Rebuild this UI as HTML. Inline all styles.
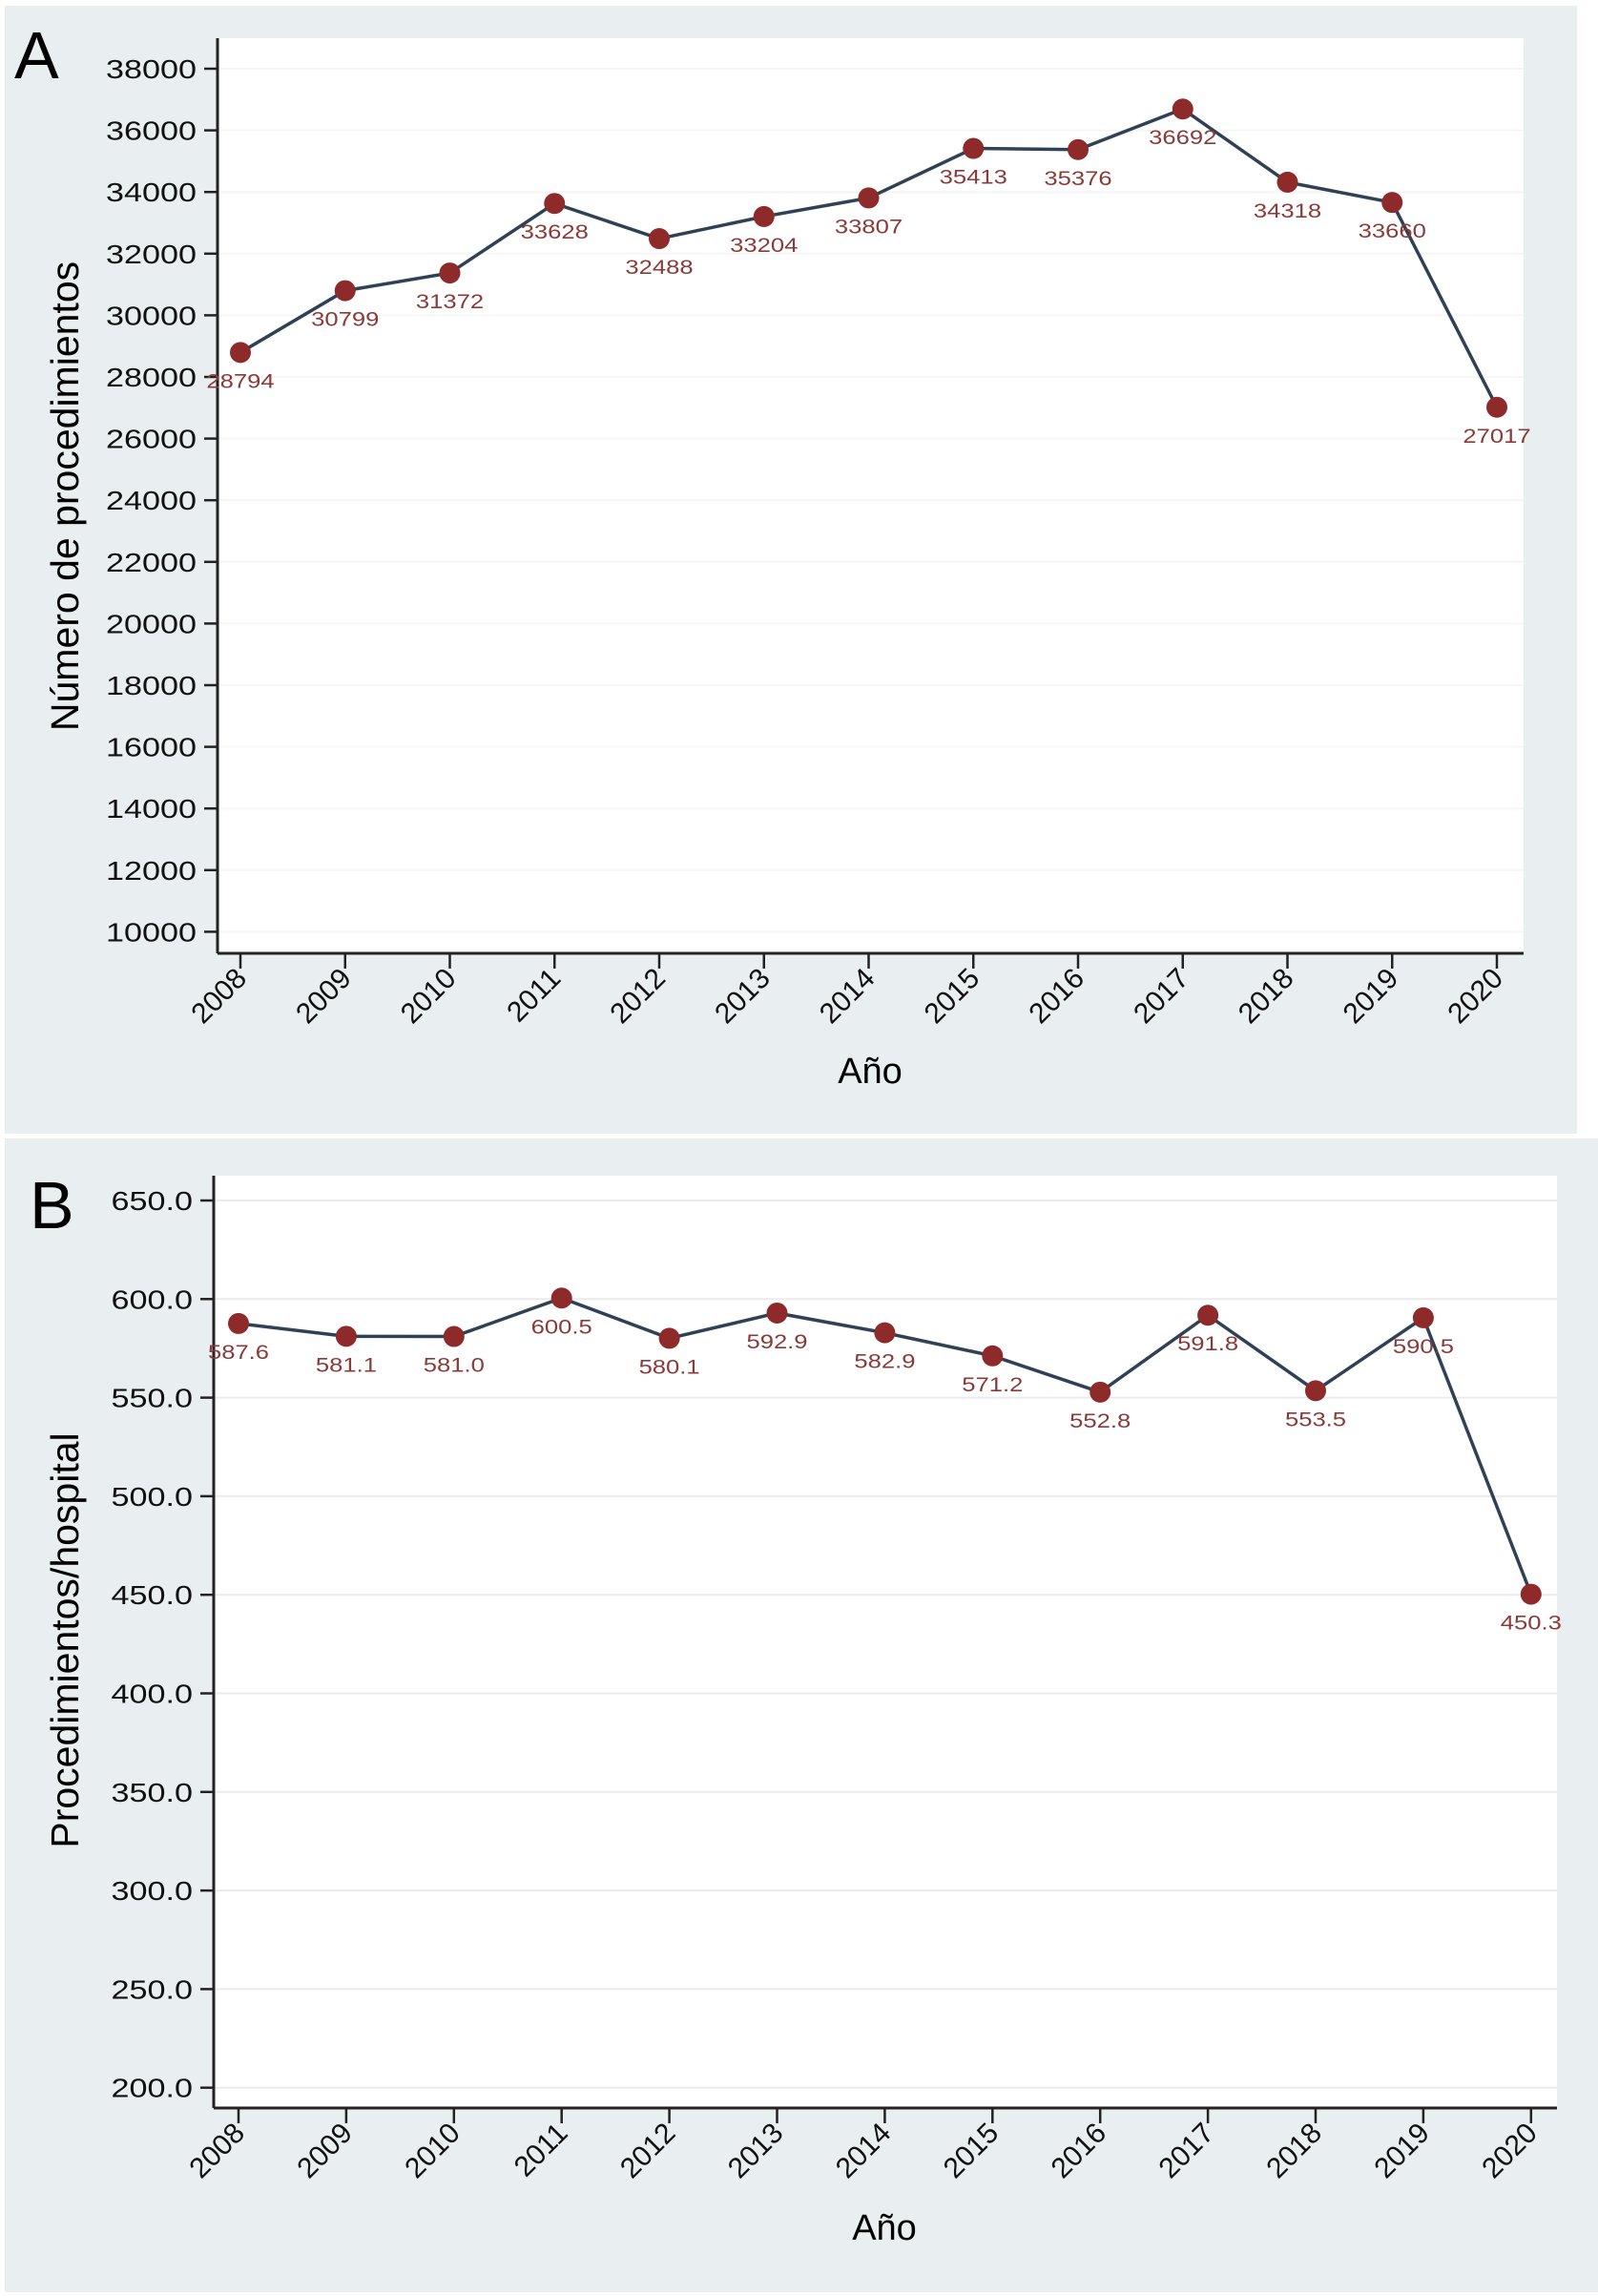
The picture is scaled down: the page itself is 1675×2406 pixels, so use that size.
<!DOCTYPE html>
<html><head><meta charset="utf-8"><style>
html,body{margin:0;padding:0;background:#fff}
svg{display:block}
text{font-family:"Liberation Sans",Arial,sans-serif}
</style></head><body>
<svg id="fig" width="1675" height="2406" xmlns="http://www.w3.org/2000/svg">
<rect x="0" y="0" width="1675" height="2406" fill="#ffffff"/>
<rect x="5" y="6" width="1648" height="1182" fill="#e9eef1"/>
<rect x="228" y="40" width="1369" height="959" fill="#ffffff"/>
<rect x="5" y="1193" width="1670" height="1209" fill="#e9eef1"/>
<rect x="224" y="1232" width="1408" height="977" fill="#ffffff"/>
<text x="15" y="82" font-size="70" fill="#000">A</text>
<text x="31" y="1287" font-size="70" fill="#000">B</text>
<text x="912" y="1135" font-size="38" text-anchor="middle" fill="#000">Año</text>
<text x="927" y="2347" font-size="38" text-anchor="middle" fill="#000">Año</text>
<text transform="translate(82,520) rotate(-90)" font-size="41" text-anchor="middle" fill="#000">Número de procedimientos</text>
<text transform="translate(82,1719) rotate(-90)" font-size="41" text-anchor="middle" fill="#000">Procedimientos/hospital</text>
<g id="chartA"></g>
<g id="chartB"></g>
</svg>
<script>
const years = [2008,2009,2010,2011,2012,2013,2014,2015,2016,2017,2018,2019,2020];
const valuesA = [28794,30799,31372,33628,32488,33204,33807,35413,35376,36692,34318,33660,27017];
const labelsA = ["28794","30799","31372","33628","32488","33204","33807","35413","35376","36692","34318","33660","27017"];
const ticksA = [10000,12000,14000,16000,18000,20000,22000,24000,26000,28000,30000,32000,34000,36000,38000];
const valuesB = [587.6,581.1,581.0,600.5,580.1,592.9,582.9,571.2,552.8,591.8,553.5,590.5,450.3];
const labelsB = ["587.6","581.1","581.0","600.5","580.1","592.9","582.9","571.2","552.8","591.8","553.5","590.5","450.3"];
const ticksB = [200,250,300,350,400,450,500,550,600,650];
const tickLabelsB = ["200.0","250.0","300.0","350.0","400.0","450.0","500.0","550.0","600.0","650.0"];

const NS = "http://www.w3.org/2000/svg";
function mk(tag, attrs, parent){
  const e = document.createElementNS(NS, tag);
  for (const k in attrs) e.setAttribute(k, attrs[k]);
  parent.appendChild(e);
  return e;
}

function draw(g, cfg){
  const xs = v => cfg.x0 + (v - years[0]) * cfg.dx;
  const ys = v => cfg.yTop + (cfg.vTop - v) * cfg.pxPer;
  cfg.ticks.forEach((t,i)=>{
    const gl = mk('line',{x1:cfg.left+2,x2:cfg.right,y1:ys(t),y2:ys(t),stroke:cfg.grid,'stroke-width':2},g);
    
    
    const tk = mk('line',{x1:cfg.left-14,x2:cfg.left,y1:ys(t),y2:ys(t),stroke:'#222','stroke-width':2.5},g);
    
    
    const tl = mk('text',{transform:`translate(${cfg.left-22},${ys(t)+10}) scale(1.22,1)`,'font-size':28,'text-anchor':'end',fill:'#111'},g);
    tl.textContent = cfg.tickLabels[i];
    
    
  });
  const ya = mk('line',{x1:cfg.left,x2:cfg.left,y1:cfg.top,y2:cfg.axisY,stroke:'#222','stroke-width':3},g);
  
  
  const xa = mk('line',{x1:cfg.left,x2:cfg.right,y1:cfg.axisY,y2:cfg.axisY,stroke:'#222','stroke-width':3},g);
  
  
  years.forEach(yr=>{
    const x = xs(yr);
    const t = mk('line',{x1:x,x2:x,y1:cfg.axisY,y2:cfg.axisY+16,stroke:'#222','stroke-width':2.5},g);
    
    
    const l = mk('text',{transform:`translate(${x+8},${cfg.axisY+28}) rotate(-45)`,'font-size':30,'text-anchor':'end',fill:'#111'},g);
    l.textContent = String(yr);
    
    
  });
  const pts = cfg.values.map((v,i)=>xs(years[i])+','+ys(v)).join(' ');
  const pl = mk('polyline',{points:pts,fill:'none',stroke:'#2f4154','stroke-width':3.5},g);
  
  
  cfg.values.forEach((v,i)=>{
    const c = mk('circle',{cx:xs(years[i]),cy:ys(v),r:11,fill:'#8e2a2a'},g);
    
    
    const t = mk('text',{transform:`translate(${xs(years[i])},${ys(v)+37}) scale(1.22,1)`,'font-size':21,'text-anchor':'middle',fill:'#8b3a3a'},g);
    t.textContent = cfg.labels[i];
    
    
  });
}

draw(document.getElementById('chartA'),{
  x0:252, dx:109.75, yTop:72, vTop:38000, pxPer:64.6/2000,
  left:228, right:1597, top:40, axisY:999,
  ticks:ticksA, tickLabels:ticksA.map(String), values:valuesA, labels:labelsA, grid:'#f6f6f6'
});
draw(document.getElementById('chartB'),{
  x0:250, dx:112.9, yTop:1258, vTop:650, pxPer:103.3/50,
  left:224, right:1632, top:1232, axisY:2209,
  ticks:ticksB, tickLabels:tickLabelsB, values:valuesB, labels:labelsB, grid:'#ebebeb'
});
</script>
</body></html>
